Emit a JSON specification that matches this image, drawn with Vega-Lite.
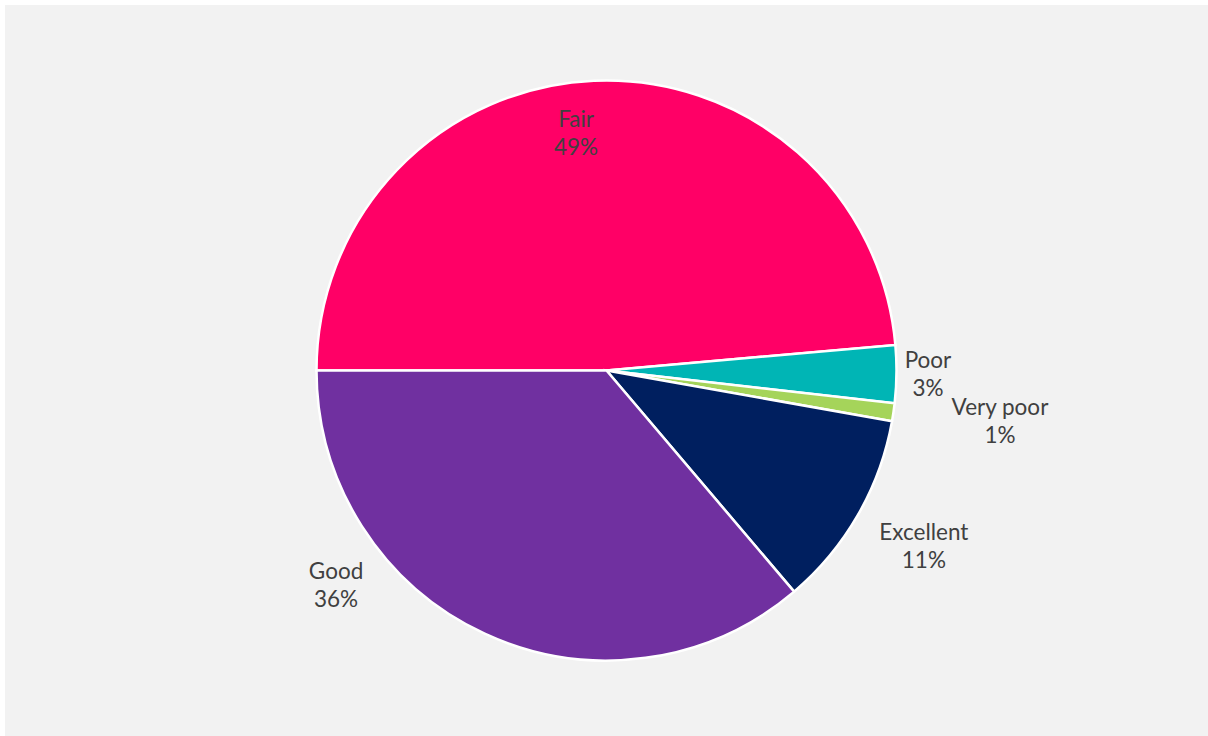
{
  "$schema": "https://vega.github.io/schema/vega-lite/v6.json",
  "width": 1208,
  "height": 736,
  "autosize": {"type": "fit", "contains": "padding"},
  "padding": {"left": 5, "top": 5, "right": 0, "bottom": 0},
  "background": "#FFFFFF",
  "config": {"view": {"stroke": null}},
  "data": {
    "values": [
      {"rating": "Fair", "share": 48.6, "label": "Fair\n49%", "rank": 1},
      {"rating": "Poor", "share": 3.2, "label": "Poor\n3%", "rank": 2},
      {"rating": "Very poor", "share": 1.0, "label": "Very poor\n1%", "rank": 3},
      {"rating": "Excellent", "share": 11.0, "label": "Excellent\n11%", "rank": 4},
      {"rating": "Good", "share": 36.2, "label": "Good\n36%", "rank": 5}
    ]
  },
  "layer": [
    {
      "data": {"values": [{"panel": "background"}]},
      "mark": {"type": "rect", "color": "#F2F2F2"},
      "encoding": {}
    },
    {
      "mark": {"type": "arc", "outerRadius": 290, "stroke": "#FFFFFF", "strokeWidth": 2.5},
      "encoding": {
        "theta": {"field": "share", "type": "quantitative", "stack": true, "scale": {"range": [4.71238898, 10.99557429]}},
        "order": {"field": "rank", "type": "quantitative", "sort": "ascending"},
        "color": {
          "field": "rating",
          "type": "nominal",
          "scale": {
            "domain": ["Fair", "Poor", "Very poor", "Excellent", "Good"],
            "range": ["#FF0066", "#00B5B5", "#A5D45A", "#001F5F", "#7030A0"]
          },
          "legend": null
        }
      }
    },
    {
      "mark": {
        "type": "text",
        "font": "Lato",
        "fontSize": 22.5,
        "color": "#404040",
        "lineBreak": "\n",
        "lineHeight": 28,
        "align": "center",
        "baseline": "middle",
        "radius": {"expr": "datum.rating === 'Fair' ? 237 : datum.rating === 'Poor' ? 321.5 : datum.rating === 'Very poor' ? 397.6 : datum.rating === 'Excellent' ? 366 : 320"},
        "dx": {"expr": "datum.rating === 'Fair' ? -20 : datum.rating === 'Good' ? -136 : 0"},
        "dy": {"expr": "datum.rating === 'Very poor' ? -20 : datum.rating === 'Excellent' ? -20 : datum.rating === 'Good' ? -89 : -14"}
      },
      "encoding": {
        "theta": {"field": "share", "type": "quantitative", "stack": true},
        "order": {"field": "rank", "type": "quantitative", "sort": "ascending"},
        "detail": {"field": "rating", "type": "nominal"},
        "text": {"field": "label", "type": "nominal"}
      }
    }
  ]
}
